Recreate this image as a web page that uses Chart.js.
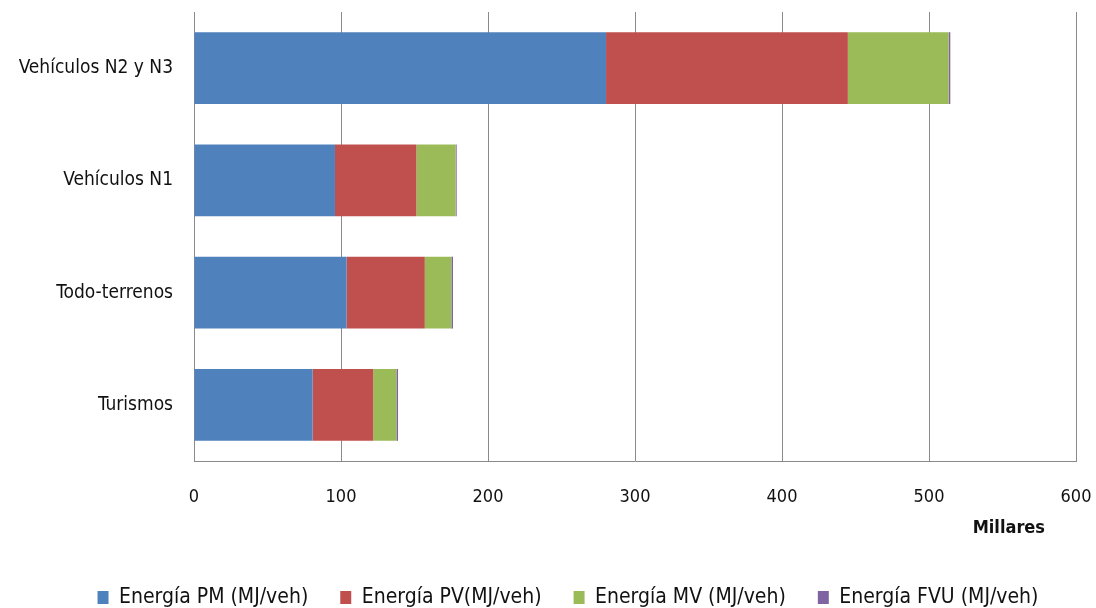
<!DOCTYPE html>
<html>
<head>
<meta charset="utf-8">
<script src="https://cdn.jsdelivr.net/npm/chart.js@4.4.1/dist/chart.umd.min.js"></script>
<style>
  html, body { margin: 0; padding: 0; background: #ffffff; }
  #wrap { width: 1096px; height: 608px; position: relative; }
</style>
</head>
<body>
<div id="wrap"><canvas id="c" width="1096" height="608"></canvas></div>
<script>
// Vehicle categories, top to bottom
const categories = ['Vehículos N2 y N3', 'Vehículos N1', 'Todo-terrenos', 'Turismos'];

// Energy per vehicle, thousands of MJ/veh
const energiaPM  = [280.3, 95.9, 103.8, 80.7];
const energiaPV  = [164.5, 55.4, 53.2, 41.2];
const energiaMV  = [68.6, 26.7, 18.1, 15.8];
const energiaFVU = [1.1, 0.7, 1.1, 1.1];

const seriesNames = ['Energía PM (MJ/veh)', 'Energía PV(MJ/veh)', 'Energía MV (MJ/veh)', 'Energía FVU (MJ/veh)'];
const xTicks = [0, 100, 200, 300, 400, 500, 600];
const axisUnit = 'Millares';

const FONT = '"Liberation Sans Narrow", "DejaVu Sans Condensed", "Open Sans", sans-serif';

// Unit label under the x axis, right side
const unitLabel = {
  id: 'unitLabel',
  afterDraw(chart) {
    const ctx = chart.ctx;
    const xs = chart.scales.x;
    ctx.save();
    ctx.font = 'bold 18px ' + FONT;
    ctx.fillStyle = '#111';
    ctx.textAlign = 'right';
    ctx.textBaseline = 'middle';
    ctx.fillText(axisUnit, xs.right - 31, 528);
    ctx.restore();
  }
};

// Centre the legend row under the plot rather than the whole canvas
const legendOffset = {
  id: 'legendOffset',
  afterLayout(chart) {
    if (chart.legend) { chart.legend.left = 60; }
  }
};

new Chart(document.getElementById('c'), {
  type: 'bar',
  data: {
    labels: categories,
    datasets: [
      { label: seriesNames[0], data: energiaPM,  backgroundColor: '#4F81BD' },
      { label: seriesNames[1], data: energiaPV,  backgroundColor: '#C0504D' },
      { label: seriesNames[2], data: energiaMV,  backgroundColor: '#9BBB59' },
      { label: seriesNames[3], data: energiaFVU, backgroundColor: '#8064A2' }
    ]
  },
  options: {
    indexAxis: 'y',
    responsive: false,
    animation: false,
    layout: { padding: { left: 0, right: 20, top: 12, bottom: -10 } },
    datasets: { bar: { categoryPercentage: 1.0, barPercentage: 0.64, borderWidth: 0 } },
    scales: {
      x: {
        stacked: true,
        min: 0, max: 600,
        afterBuildTicks(scale) { scale.ticks = xTicks.map(v => ({ value: v })); },
        afterFit(scale) { scale.height = 94; },
        grid: { color: '#8a8a8a', lineWidth: 1, drawTicks: true, tickLength: 26, tickColor: 'rgba(0,0,0,0)' },
        border: { color: '#8a8a8a', width: 1 },
        ticks: { color: '#111', font: { family: FONT, size: 18 }, padding: 0 }
      },
      y: {
        stacked: true,
        afterFit(scale) { scale.width = 194; },
        grid: { display: true, drawOnChartArea: false, drawTicks: true, tickLength: 21, tickColor: 'rgba(0,0,0,0)' },
        border: { color: '#8a8a8a', width: 1 },
        ticks: { color: '#111', font: { family: FONT, size: 19 }, padding: 0 }
      }
    },
    plugins: {
      legend: {
        position: 'bottom',
        labels: {
          color: '#111',
          font: { family: FONT, size: 21 },
          boxWidth: 11, boxHeight: 13,
          padding: 32
        }
      },
      tooltip: { enabled: false }
    }
  },
  plugins: [unitLabel, legendOffset]
});
</script>
</body>
</html>
